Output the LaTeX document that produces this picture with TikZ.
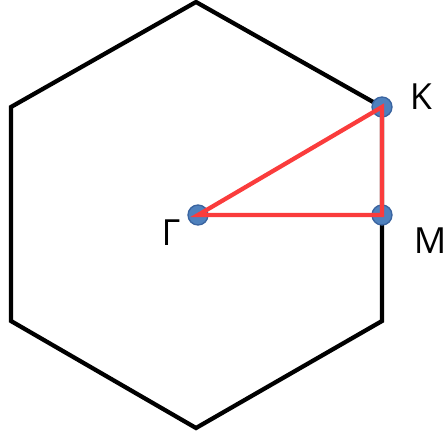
\documentclass[tikz,border=0pt]{standalone}
\usepackage{fontspec}
\setmainfont{Open Sans}
\usetikzlibrary{positioning}

\begin{document}
\begin{tikzpicture}[x=0.75pt,y=-0.75pt,line join=miter]
  \tikzset{pt/.style={circle,fill={rgb,255:red,79;green,129;blue,189},draw={rgb,255:red,58;green,100;blue,160},line width=1pt,inner sep=0pt,minimum size=15pt},
           lbl/.style={font=\fontsize{27}{27}\selectfont}}
  \useasboundingbox (0,0) rectangle (445,438);
  % hexagon
  \coordinate (h1) at (196,2);
  \coordinate (h2) at (382,107);
  \coordinate (h3) at (382,321);
  \coordinate (h4) at (196,428);
  \coordinate (h5) at (11,321);
  \coordinate (h6) at (11,107);
  \draw[line width=3.2pt] (h1)--(h2)--(h3)--(h4)--(h5)--(h6)--cycle;
  \node[pt] (G) at (198,215) {};
  \node[pt] (K) at (382,107) {};
  \node[pt] (M) at (382,215) {};
  \node[lbl] (gl) at (171,233) {Γ};
  \node[lbl] (kl) at (421,97) {K};
  \node[lbl] (ml) at (430,241) {M};
  \draw[line width=3.2pt,color={rgb,255:red,250;green,60;blue,60}] (G.center)--(K.center)--(M.center)--cycle;
\end{tikzpicture}
\end{document}
